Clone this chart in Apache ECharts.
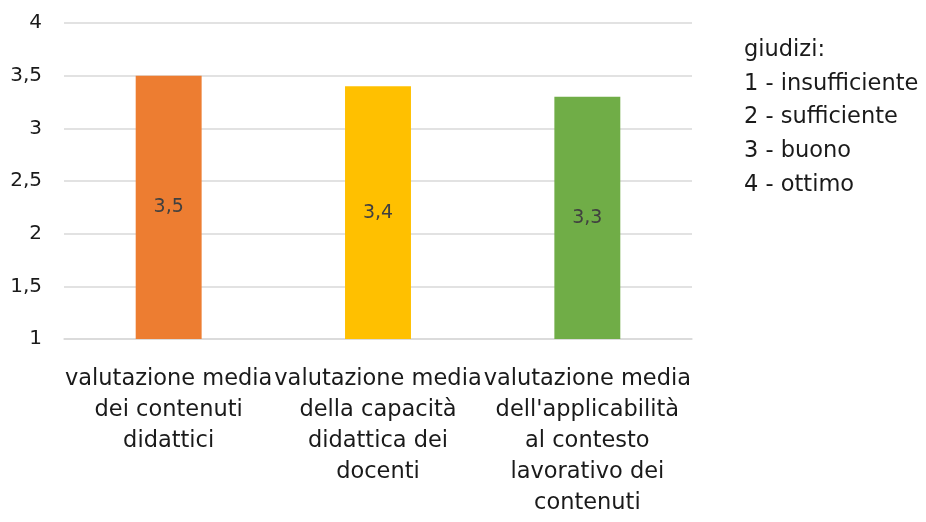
<!DOCTYPE html>
<html>
<head>
<meta charset="utf-8">
<script src="https://cdn.jsdelivr.net/npm/echarts@6/dist/echarts.min.js"></script>
<style>
  html, body { margin: 0; padding: 0; background: #fff; }
  #chart { width: 926px; height: 522px; }
</style>
</head>
<body>
<div id="chart"></div>
<script>
const categories = [
  'valutazione media\ndei contenuti\ndidattici',
  'valutazione media\ndella capacità\ndidattica dei\ndocenti',
  'valutazione media\ndell\'applicabilità\nal contesto\nlavorativo dei\ncontenuti'
]
const values = [3.5, 3.4, 3.3]
const barColors = ['#ED7D31', '#FFC000', '#70AD47']
const legendLines = ['giudizi:', '1 - insufficiente', '2 - sufficiente', '3 - buono', '4 - ottimo']

const fmt = v => String(v).replace('.', ',')
const font = '"DejaVu Sans", sans-serif'

const chart = echarts.init(document.getElementById('chart'))

chart.setOption({
  animation: false,
  textStyle: { fontFamily: font },
  grid: { left: 64, right: 234, top: 23, bottom: 183, containLabel: false },
  xAxis: {
    type: 'category',
    data: categories,
    axisTick: { show: false },
    axisLine: { lineStyle: { color: '#d9d9d9', width: 1.5 } },
    axisLabel: {
      interval: 0,
      margin: 25,
      fontSize: 22.5,
      lineHeight: 31,
      color: '#1a1a1a',
      fontFamily: font
    }
  },
  yAxis: {
    type: 'value',
    min: 1,
    max: 4,
    interval: 0.5,
    axisLine: { show: false },
    axisTick: { show: false },
    axisLabel: {
      formatter: fmt,
      fontSize: 20,
      margin: 22,
      color: '#1a1a1a',
      fontFamily: font
    },
    splitLine: { lineStyle: { color: '#d9d9d9', width: 1.5 } }
  },
  series: [
    {
      type: 'bar',
      barWidth: '31.5%',
      data: values.map((v, i) => ({ value: v, itemStyle: { color: barColors[i] } })),
      label: {
        show: true,
        position: 'inside',
        formatter: p => fmt(p.value),
        fontSize: 19,
        color: '#404040',
        fontFamily: font
      }
    }
  ],
  graphic: [
    {
      type: 'text',
      left: 744,
      top: 33,
      style: {
        text: legendLines.join('\n'),
        font: '22.5px ' + font,
        lineHeight: 33.8,
        fill: '#1a1a1a'
      }
    }
  ]
})
</script>
</body>
</html>
